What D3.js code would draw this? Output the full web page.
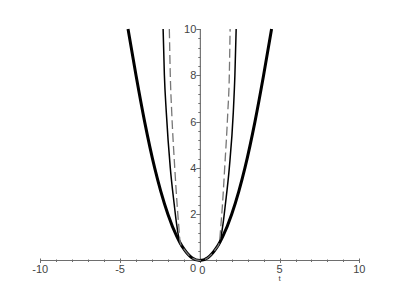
<!DOCTYPE html>
<html lang="en">
<head>
    <meta charset="utf-8">
    <style>
        body { margin: 0; background: #fff; }
        svg { display: block; }
        .tick-label { font: 11px "Liberation Sans", Arial, sans-serif; fill: #444; }
    </style>
</head>
<body>
<svg id="mainSVG" width="400" height="290"></svg>
<script src="https://cdn.jsdelivr.net/npm/d3@7"></script>
<script>

    // values
    var thickX = [-4.5, -4.0, -3.46, -2.83, -2.45, -2.0, -1.45, -1.25, -1.0, -0.5, 0, 0.5, 1.0, 1.25, 1.45, 2.0, 2.45, 2.83, 3.46, 4.0, 4.5];
    var thickY = [10, 8, 6, 4, 3, 2, 1.05, 0.78, 0.5, 0.12, 0, 0.12, 0.5, 0.78, 1.05, 2, 3, 4, 6, 8, 10];

    var thinX = [-2.3, -2.22, -2.1, -1.85, -1.6, -1.46, -1.25, -1.0, -0.5, 0, 0.5, 1.0, 1.25, 1.46, 1.6, 1.85, 2.1, 2.2, 2.28];
    var thinY = [10, 8, 6.4, 4, 2.4, 1.6, 0.78, 0.5, 0.12, 0, 0.12, 0.5, 0.78, 1.6, 2.4, 4, 6.4, 8, 10];

    var dashX = [-1.91, -1.85, -1.76, -1.57, -1.42, -1.32, -1.22, -1.0, -0.5, 0, 0.5, 1.0, 1.22, 1.32, 1.42, 1.56, 1.755, 1.85, 1.9];
    var dashY = [10, 8, 6.4, 4, 2.4, 1.5, 0.75, 0.5, 0.12, 0, 0.12, 0.5, 0.75, 1.5, 2.4, 4, 6.4, 8, 10];

    var xMajor = [-10, -5, 0, 5, 10];
    var xLabels = ["-10", "-5", "0", "5", "10"];
    var yMajor = [2, 4, 6, 8, 10];
    var yLabels = ["2", "4", "6", "8", "10"];
    var axisName = "t";

    var svg = d3.select("#mainSVG");

    var x = d3.scaleLinear().domain([-10, 10]).range([40.3, 359.3]);
    var y = d3.scaleLinear().domain([0, 10]).range([260.5, 29]);

    var axisColor = "#6e6e6e";

    // x axis
    svg.append("line")
        .attr("x1", x(-10)).attr("x2", x(10))
        .attr("y1", y(0)).attr("y2", y(0))
        .attr("stroke", axisColor).attr("stroke-width", 1);

    var xMinor = d3.range(-10, 11, 1).filter(function (d) { return d % 5 != 0; });
    svg.selectAll(".xminor").data(xMinor).enter().append("line")
        .attr("x1", function (d) { return Math.round(x(d)) + 0.5; })
        .attr("x2", function (d) { return Math.round(x(d)) + 0.5; })
        .attr("y1", y(0) - 1).attr("y2", y(0) + 1.5)
        .attr("stroke", axisColor);

    svg.selectAll(".xmajor").data(xMajor).enter().append("line")
        .attr("x1", function (d) { return Math.round(x(d)) + 0.5; })
        .attr("x2", function (d) { return Math.round(x(d)) + 0.5; })
        .attr("y1", y(0) - 2).attr("y2", y(0) + 2.5)
        .attr("stroke", axisColor);

    svg.selectAll(".xlab").data(xMajor).enter().append("text")
        .attr("class", "tick-label")
        .attr("text-anchor", "middle")
        .attr("x", function (d) { return d == 0 ? x(d) + 2.5 : x(d); })
        .attr("y", function (d) { return d == 0 ? 274 : 273; })
        .text(function (d, i) { return xLabels[i]; });

    svg.append("text")
        .attr("class", "tick-label")
        .style("font-size", "8px")
        .attr("text-anchor", "middle")
        .attr("x", x(5))
        .attr("y", 281)
        .text(axisName);

    // y axis
    svg.append("line")
        .attr("x1", x(0) + 0.5).attr("x2", x(0) + 0.5)
        .attr("y1", y(10)).attr("y2", y(0))
        .attr("stroke", "#555").attr("stroke-width", 1);

    var yMinor = d3.range(0.4, 10, 0.4).filter(function (d) { return Math.abs(d / 2 - Math.round(d / 2)) > 0.01; });
    svg.selectAll(".yminor").data(yMinor).enter().append("line")
        .attr("x1", x(0) - 1.5).attr("x2", x(0) + 1)
        .attr("y1", function (d) { return Math.round(y(d)) + 0.5; })
        .attr("y2", function (d) { return Math.round(y(d)) + 0.5; })
        .attr("stroke", axisColor);

    svg.selectAll(".ymajor").data(yMajor).enter().append("line")
        .attr("x1", x(0) - 3.5).attr("x2", x(0) + 1)
        .attr("y1", function (d) { return Math.round(y(d)) + 0.5; })
        .attr("y2", function (d) { return Math.round(y(d)) + 0.5; })
        .attr("stroke", axisColor);

    svg.selectAll(".ylab").data(yMajor).enter().append("text")
        .attr("class", "tick-label")
        .attr("text-anchor", "end")
        .attr("x", x(0) - 3.5)
        .attr("y", function (d) { return y(d) + 4; })
        .text(function (d, i) { return yLabels[i]; });

    svg.append("text")
        .attr("class", "tick-label")
        .attr("text-anchor", "middle")
        .attr("x", 193)
        .attr("y", 272)
        .text("0");

    // curves
    var line = d3.line()
        .x(function (d) { return x(d[0]); })
        .y(function (d) { return y(d[1]); })
        .curve(d3.curveMonotoneX);

    svg.append("path")
        .datum(d3.zip(thickX, thickY))
        .attr("d", line)
        .attr("fill", "none")
        .attr("stroke", "#000")
        .attr("stroke-width", 3);

    svg.append("path")
        .datum(d3.zip(thinX, thinY))
        .attr("d", line)
        .attr("fill", "none")
        .attr("stroke", "#000")
        .attr("stroke-width", 1.5);

    svg.append("path")
        .datum(d3.zip(dashX, dashY))
        .attr("d", line)
        .attr("fill", "none")
        .attr("stroke", "#777")
        .attr("stroke-width", 1.3)
        .attr("stroke-dasharray", "9,4");

</script>
</body>
</html>
